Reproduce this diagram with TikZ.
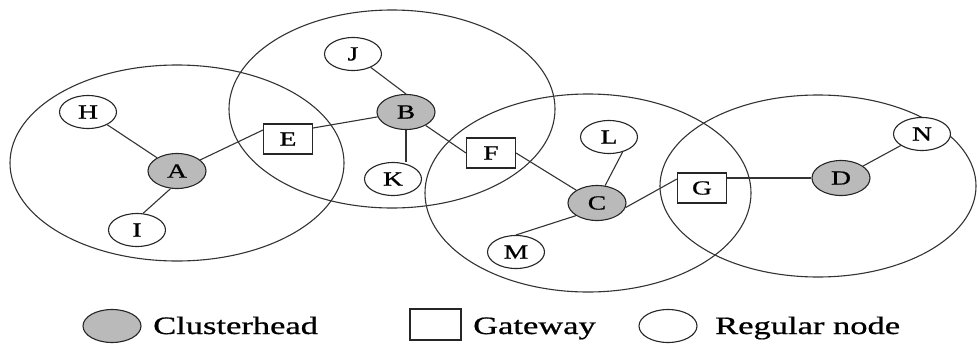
\documentclass[tikz,border=0pt]{standalone}
\usepackage{fontspec}
\setmainfont{Liberation Serif}
\newfontfamily\heavyserif{Liberation Serif}[FakeBold=0.7]
\usetikzlibrary{shapes.geometric}

% wide letterforms used for every label
\newcommand{\widetext}[1]{\scalebox{1.38}[1]{#1}}

\tikzset{
  net/.style={line width=1.1pt, draw=black!85},
  cluster/.style={line width=1.1pt, draw=black!80},
  regular/.style={net, ellipse, fill=white, minimum width=57pt, minimum height=33pt,
    inner sep=0pt, font=\heavyserif\fontsize{20}{20}\selectfont},
  head/.style={regular, fill=black!27, minimum width=58pt, minimum height=35pt},
  gateway/.style={net, rectangle, fill=white, minimum width=49pt, minimum height=30pt,
    inner sep=0pt, font=\heavyserif\fontsize{20}{20}\selectfont},
  legendtext/.style={anchor=base west, inner sep=0pt,
    font=\heavyserif\fontsize{25}{25}\selectfont},
  link/.style={line width=1.1pt, draw=black!80}
}

\begin{document}
\begin{tikzpicture}[x=1pt, y=-1pt]
\useasboundingbox (0,0) rectangle (977,343);

% cluster ranges
\draw[cluster] (177,163) ellipse [x radius=167pt, y radius=98pt];
\draw[cluster] (392,109) ellipse [x radius=163pt, y radius=99pt];
\draw[cluster] (588,193) ellipse [x radius=163pt, y radius=99pt];
\draw[cluster] (818,186) ellipse [x radius=158pt, y radius=91pt];

% clusterheads
\node[head] (A) at (177,171) {\widetext{A}};
\node[head] (B) at (406,112) {\widetext{B}};
\node[head] (C) at (597,203) {\widetext{C}};
\node[head] (D) at (841,178) {\widetext{D}};

% gateways
\node[gateway] (E) at (288,139) {\widetext{E}};
\node[gateway] (F) at (491,153) {\widetext{F}};
\node[gateway] (G) at (702,188) {\widetext{G}};

% regular nodes
\node[regular] (H) at (88,112)  {\widetext{H}};
\node[regular] (I) at (137,230) {\widetext{I}};
\node[regular] (J) at (353,54)  {\widetext{J}};
\node[regular] (K) at (393,179) {\widetext{K}};
\node[regular] (L) at (609,137) {\widetext{L}};
\node[regular] (M) at (516,252) {\widetext{M}};
\node[regular] (N) at (922,134) {\widetext{N}};

% links
\draw[link] (H) -- (A);
\draw[link] (I.70) -- (A.250);
\draw[link] (A) -- ([yshift=9pt]E.west);
\draw[link] ([yshift=11pt]E.east) -- (B);
\draw[link] (J) -- (B.north);
\draw[link] (B.south) -- (B.south |- K.north);
\draw[link] (B) -- (F.west);
\draw[link] (F.east) -- (C);
\draw[link] (L.-48) -- (C.65);
\draw[link] (M.north) -- (C.211);
\draw[link] (C.-9) -- ([yshift=9pt]G.west);
\draw[link] (D) -- (D -| G.east);
\draw[link] (D) -- (N);

% legend
\node[head, minimum width=58pt, minimum height=33pt] (keyhead) at (112,326) {};
\node[legendtext] (keyheadtext) at (153,334) {\widetext{Clusterhead}};
\node[gateway, minimum width=51pt, minimum height=31pt] (keygate) at (435.5,324.5) {};
\node[legendtext] (keygatetext) at (473,334) {\widetext{Gateway}};
\node[regular, minimum width=58pt, minimum height=33pt] (keyreg) at (668,326) {};
\node[legendtext] (keyregtext) at (715,334) {\widetext{Regular node}};
\end{tikzpicture}
\end{document}
